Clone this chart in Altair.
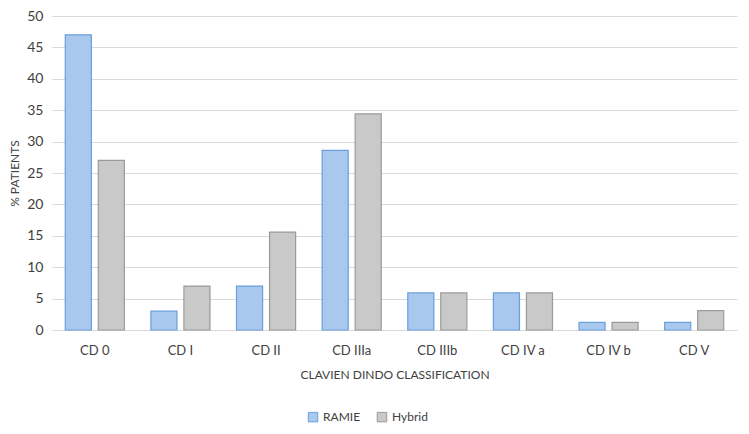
import altair as alt
import pandas as pd

categories = ["CD 0", "CD I", "CD II", "CD IIIa", "CD IIIb", "CD IV a", "CD IV b", "CD V"]
ramie = [47.0, 3.0, 7.0, 28.6, 5.9, 5.9, 1.2, 1.2]
hybrid = [27.0, 7.0, 15.6, 34.4, 5.9, 5.9, 1.2, 3.1]
series = ["RAMIE", "Hybrid"]

rows = []
for c, r, h in zip(categories, ramie, hybrid):
    rows.append({"cat": c, "series": "RAMIE", "value": r})
    rows.append({"cat": c, "series": "Hybrid", "value": h})
df = pd.DataFrame(rows)

FONT = "Lato"

chart = alt.Chart(df).mark_bar(strokeWidth=1.2).encode(
    x=alt.X("cat:N", sort=categories,
            scale=alt.Scale(paddingInner=0.31, paddingOuter=0.155),
            axis=alt.Axis(title="CLAVIEN DINDO CLASSIFICATION", labelAngle=0,
                          ticks=False, domainColor="#d9d9d9", labelPadding=14,
                          titlePadding=12, labelFontSize=13, titleFontSize=12,
                          titleFontWeight="normal", labelColor="#404040",
                          titleColor="#404040", labelFont=FONT, titleFont=FONT)),
    xOffset=alt.XOffset("series:N", sort=series,
                        scale=alt.Scale(paddingInner=0.21, paddingOuter=0)),
    y=alt.Y("value:Q", scale=alt.Scale(domain=[0, 50]),
            axis=alt.Axis(title="% PATIENTS", values=list(range(0, 55, 5)),
                          domain=False, ticks=False, gridColor="#d9d9d9",
                          labelPadding=9, labelFontSize=14, titleFontSize=12,
                          titleFontWeight="normal", labelColor="#404040",
                          titleColor="#404040", labelFont=FONT, titleFont=FONT,
                          titlePadding=5)),
    color=alt.Color("series:N", sort=series,
                    scale=alt.Scale(domain=series, range=["#a9c8ee", "#c9c9c9"]),
                    legend=alt.Legend(title=None, orient="none", direction="horizontal",
                                      legendX=255, legendY=395, symbolType="square",
                                      symbolSize=90, labelFontSize=12, labelFont=FONT,
                                      labelColor="#404040", columnPadding=14,
                                      symbolStrokeWidth=1)),
    stroke=alt.Stroke("series:N", sort=series,
                      scale=alt.Scale(domain=series, range=["#6a9fdc", "#9a9a9a"]),
                      legend=None),
).properties(
    width=685, height=314,
    autosize=alt.AutoSizeParams(type="none"),
    padding={"left": 44, "top": 8, "right": 4, "bottom": 96},
).configure_view(stroke=None)

chart.save("out.html", embed_options={"renderer": "svg", "actions": False})
